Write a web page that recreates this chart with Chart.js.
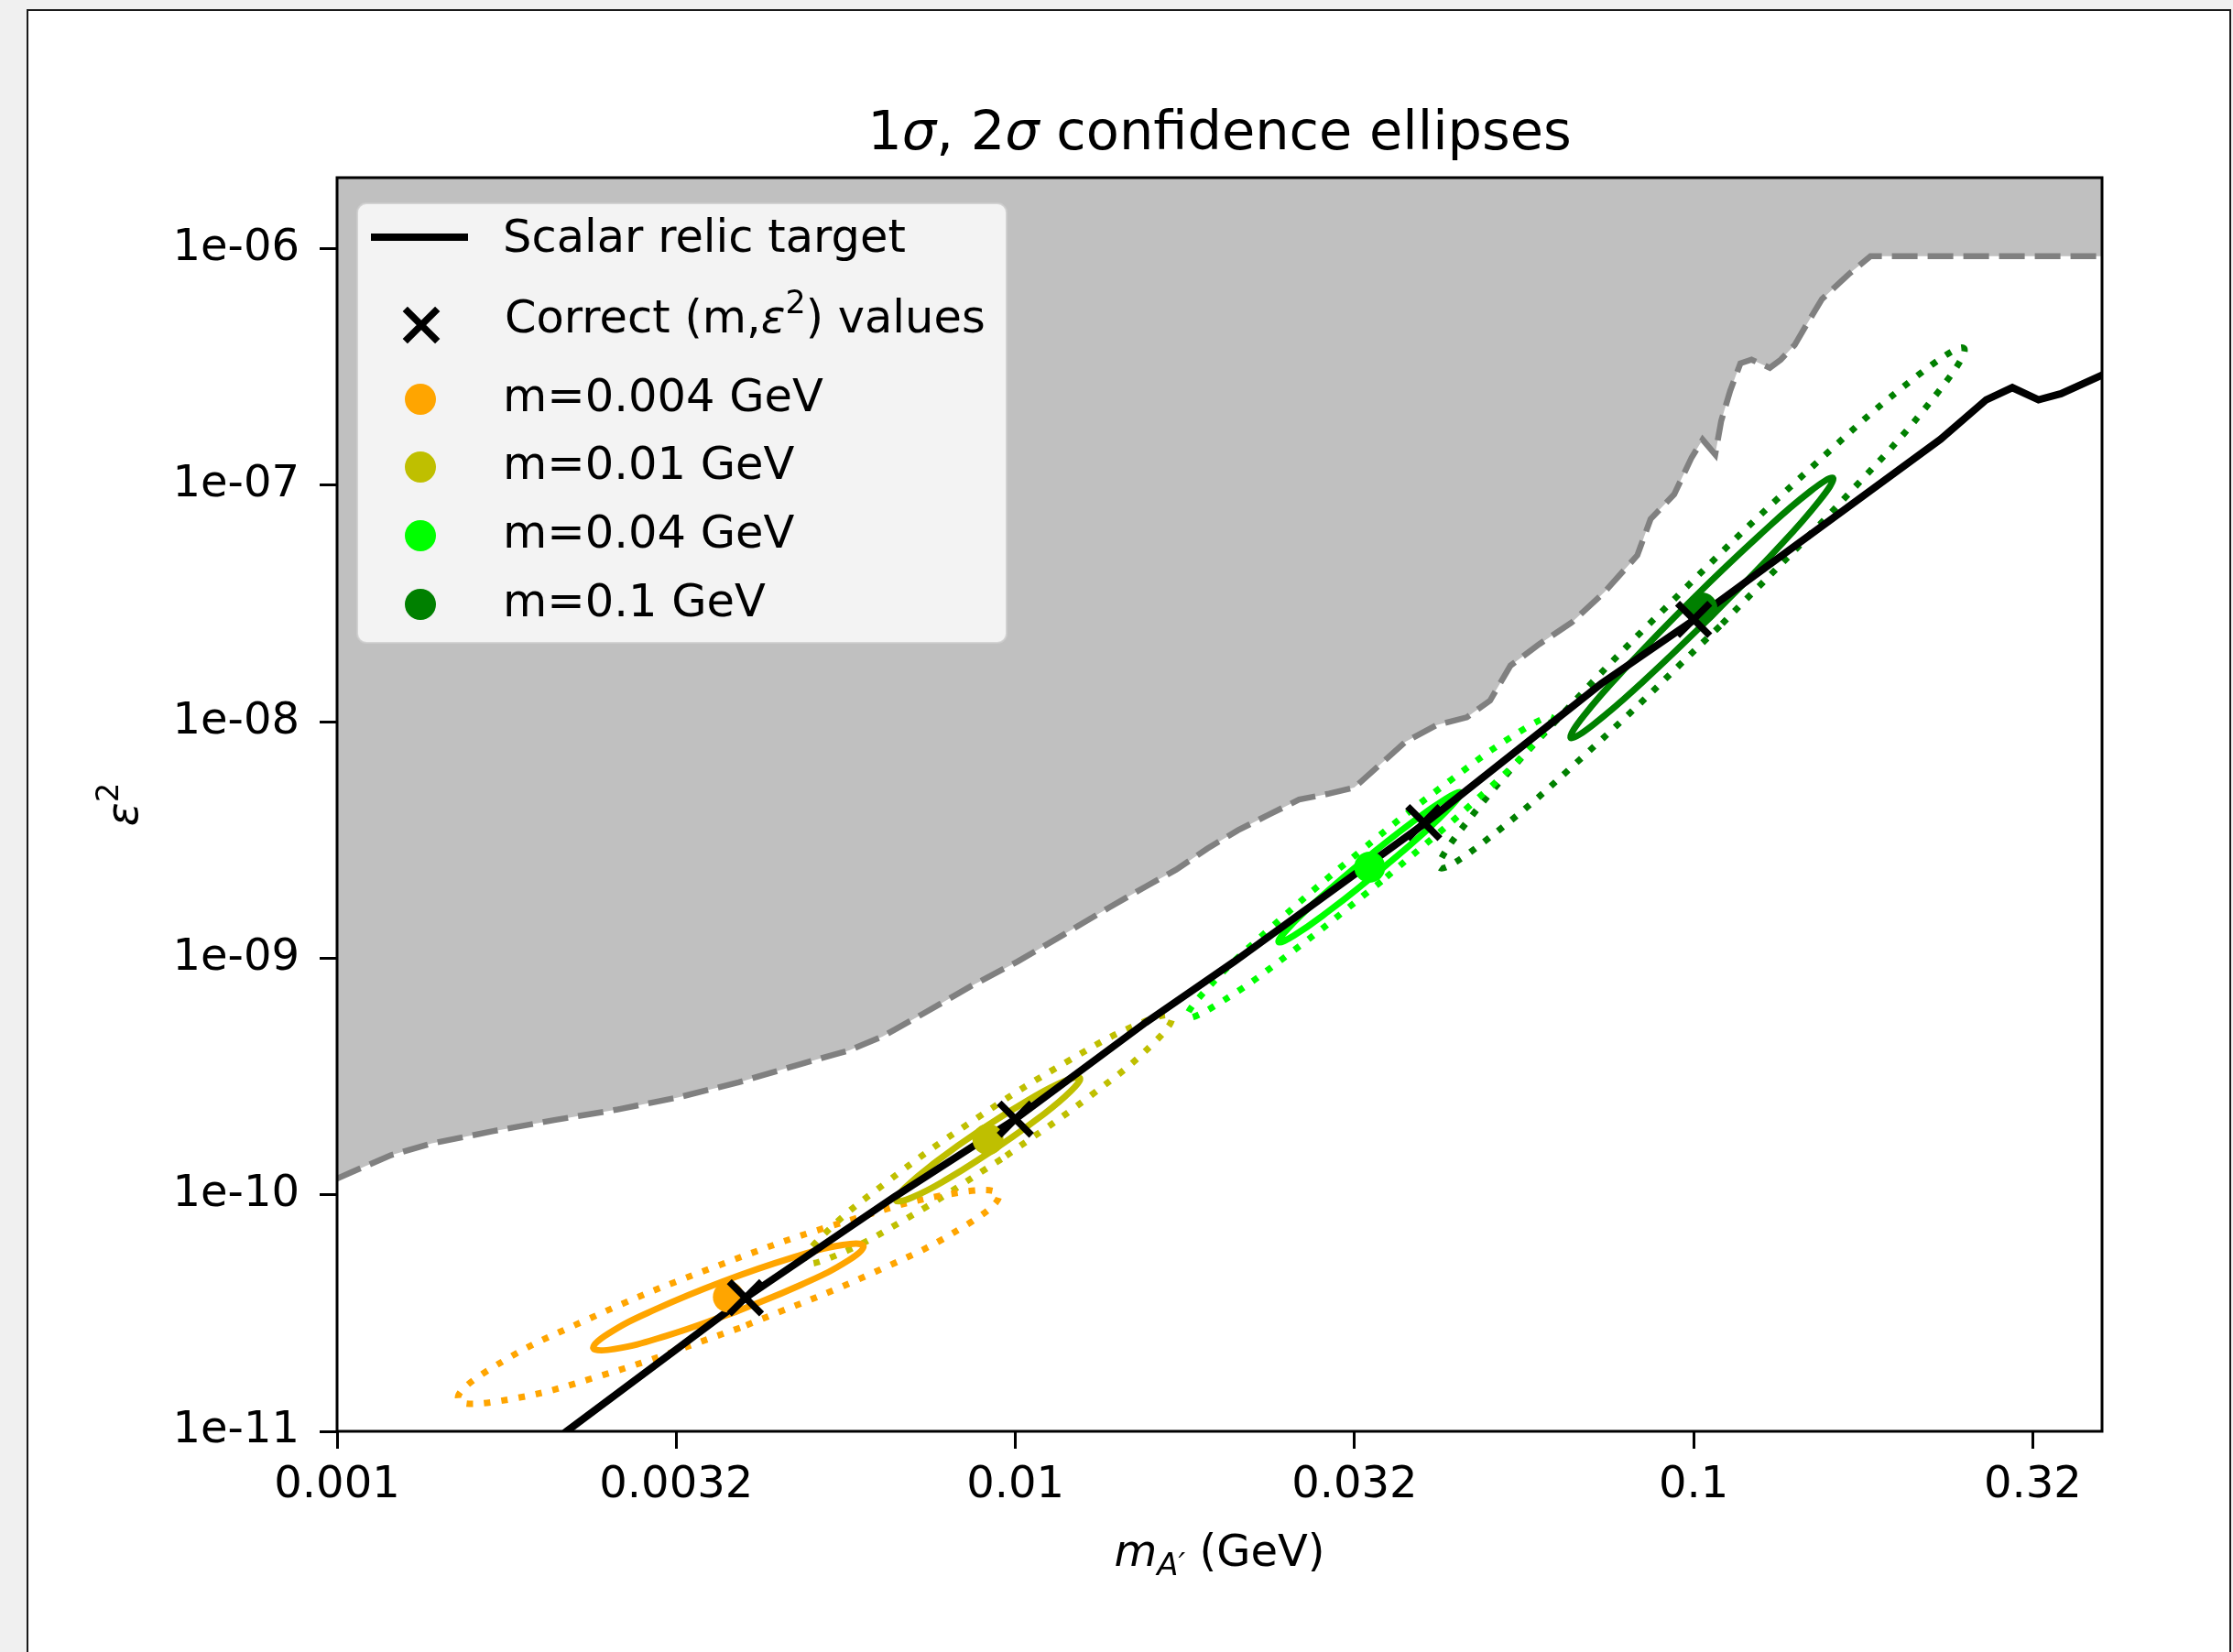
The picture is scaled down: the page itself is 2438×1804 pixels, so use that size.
<!DOCTYPE html>
<html>
<head>
<meta charset="utf-8">
<script src="https://cdn.jsdelivr.net/npm/chart.js@4.4.1/dist/chart.umd.min.js"></script>
<style>
  html, body { margin: 0; padding: 0; background: #f0f0f0; overflow: hidden; }
  #frame { position: absolute; left: 29px; top: 10px; width: 2403px; height: 1810px; background: #fff; border: 2px solid #1a1a1a; border-bottom: none; }
  #c { position: absolute; left: 0; top: 0; }
</style>
</head>
<body>
<div id="frame"></div>
<canvas id="c" width="2438" height="1804"></canvas>
<script>
// excluded region boundary (grey above it)
const boundaryMass = [0.001, 0.00106, 0.0012, 0.00138, 0.0017, 0.00209, 0.00258, 0.00318, 0.00391, 0.00482,
  0.00569, 0.00637, 0.00731, 0.00861, 0.01007, 0.01178, 0.01375, 0.01556, 0.01726, 0.01918,
  0.02129, 0.0236, 0.0262, 0.029, 0.0316, 0.0339, 0.0376, 0.0418, 0.0463, 0.0501,
  0.0537, 0.0592, 0.0661, 0.0739, 0.0826, 0.0864, 0.0936, 0.0993, 0.1031, 0.1076,
  0.1098, 0.1132, 0.1172, 0.1217, 0.1295, 0.1344, 0.1409, 0.1472, 0.1546, 0.1692,
  0.1823, 0.4];
const boundaryEps2 = [1.17e-10, 1.26e-10, 1.47e-10, 1.65e-10, 1.86e-10, 2.07e-10, 2.29e-10, 2.58e-10, 2.99e-10, 3.57e-10,
  4.08e-10, 4.67e-10, 5.83e-10, 7.64e-10, 9.68e-10, 1.26e-9, 1.64e-9, 2.01e-9, 2.37e-9, 2.91e-9,
  3.48e-9, 4.04e-9, 4.69e-9, 4.97e-9, 5.27e-9, 6.31e-9, 8.24e-9, 9.70e-9, 1.045e-8, 1.23e-8,
  1.73e-8, 2.13e-8, 2.63e-8, 3.54e-8, 5.06e-8, 7.2e-8, 9.16e-8, 1.31e-7, 1.56e-7, 1.35e-7,
  1.87e-7, 2.51e-7, 3.28e-7, 3.40e-7, 3.14e-7, 3.40e-7, 3.92e-7, 4.86e-7, 6.13e-7, 7.80e-7,
  9.31e-7, 9.31e-7];

// scalar relic target
const relicMass = [0.00205, 0.00218, 0.004, 0.00663, 0.01, 0.01556, 0.02104, 0.0403, 0.0731, 0.1003,
  0.2311, 0.27, 0.295, 0.3224, 0.348, 0.404];
const relicEps2 = [8.7e-12, 1.0e-11, 3.67e-11, 9.8e-11, 2.09e-10, 5.35e-10, 9.7e-10, 3.75e-9, 1.45e-8, 2.71e-8,
  1.565e-7, 2.30e-7, 2.59e-7, 2.30e-7, 2.44e-7, 2.96e-7];

// correct (m, eps^2) values
const trueMass = [0.004, 0.01, 0.04, 0.1];
const trueEps2 = [3.67e-11, 2.09e-10, 3.75e-9, 2.71e-8];

// fitted values (centres of the ellipses)
const fitMass = [0.003776, 0.009113, 0.0333, 0.1028];
const fitEps2 = [3.70e-11, 1.715e-10, 2.43e-9, 3.03e-8];

const massLabels = ['m=0.004 GeV', 'm=0.01 GeV', 'm=0.04 GeV', 'm=0.1 GeV'];
const massColors = ['#ffa500', '#bfbf00', '#00ff00', '#008000'];

// ellipse outlines [m, eps^2], 1 sigma and 2 sigma
const ellA1 = [[0.003851, 3.183e-11], [0.003054, 2.532e-11], [0.002564, 2.229e-11], [0.002387, 2.248e-11],
  [0.002513, 2.591e-11], [0.002951, 3.284e-11], [0.003702, 4.297e-11], [0.004668, 5.402e-11],
  [0.005563, 6.134e-11], [0.005971, 6.083e-11], [0.005674, 5.279e-11], [0.004832, 4.165e-11], [0.003851, 3.183e-11]];
const ellA2 = [[0.003928, 2.739e-11], [0.002471, 1.733e-11], [0.00174, 1.344e-11], [0.001509, 1.366e-11],
  [0.001672, 1.815e-11], [0.002306, 2.916e-11], [0.003629, 4.993e-11], [0.00577, 7.894e-11],
  [0.008191, 1.018e-10], [0.00945, 1.001e-10], [0.008521, 7.539e-11], [0.006182, 4.691e-11], [0.003928, 2.739e-11]];
const ellB1 = [[0.009322, 1.558e-10], [0.007955, 1.170e-10], [0.007037, 9.74e-11], [0.006674, 9.44e-11],
  [0.00688, 1.073e-10], [0.007649, 1.383e-10], [0.00891, 1.889e-10], [0.01045, 2.514e-10],
  [0.0118, 3.021e-10], [0.01245, 3.119e-10], [0.01207, 2.744e-10], [0.01086, 2.128e-10], [0.009322, 1.558e-10]];
const ellB2 = [[0.009535, 1.415e-10], [0.006939, 7.99e-11], [0.005434, 5.534e-11], [0.004887, 5.191e-11],
  [0.005194, 6.708e-11], [0.006418, 1.115e-10], [0.00871, 2.08e-10], [0.01197, 3.685e-10],
  [0.01529, 5.318e-10], [0.01699, 5.671e-10], [0.016, 4.387e-10], [0.01294, 2.639e-10], [0.009535, 1.415e-10]];
const ellC1 = [[0.03396, 2.266e-9], [0.02902, 1.589e-9], [0.02573, 1.247e-9], [0.02444, 1.171e-9],
  [0.02523, 1.336e-9], [0.02804, 1.789e-9], [0.03264, 2.6e-9], [0.0382, 3.709e-9],
  [0.04308, 4.723e-9], [0.04535, 5.03e-9], [0.04394, 4.409e-9], [0.03954, 3.292e-9], [0.03396, 2.266e-9]];
const ellC2 = [[0.03464, 2.115e-9], [0.02529, 1.04e-9], [0.01989, 6.41e-10], [0.01795, 5.65e-10],
  [0.01911, 7.36e-10], [0.02361, 1.319e-9], [0.032, 2.786e-9], [0.04383, 5.667e-9],
  [0.05575, 9.19e-9], [0.06177, 1.043e-8], [0.058, 8.009e-9], [0.04695, 4.466e-9], [0.03464, 2.115e-9]];
const ellD1 = [[0.106, 2.774e-8], [0.08449, 1.492e-8], [0.07101, 9.70e-9], [0.06587, 8.56e-9],
  [0.06884, 1.06e-8], [0.08013, 1.739e-8], [0.0997, 3.313e-8], [0.1251, 6.159e-8],
  [0.1488, 9.469e-8], [0.1605, 1.073e-7], [0.1535, 8.664e-8], [0.1319, 5.282e-8], [0.106, 2.774e-8]];
const ellD2 = [[0.1093, 2.538e-8], [0.06947, 7.339e-9], [0.04905, 3.106e-9], [0.04221, 2.418e-9],
  [0.04611, 3.71e-9], [0.06245, 9.98e-9], [0.09669, 3.619e-8], [0.1521, 1.252e-7],
  [0.2154, 2.958e-7], [0.2503, 3.798e-7], [0.2292, 2.476e-7], [0.1692, 9.204e-8], [0.1093, 2.538e-8]];

const xTicks = [0.001, 0.0031623, 0.01, 0.031623, 0.1, 0.31623];
const xTickLabels = ['0.001', '0.0032', '0.01', '0.032', '0.1', '0.32'];
const yTicks = [1e-11, 1e-10, 1e-9, 1e-8, 1e-7, 1e-6];
const yTickLabels = ['1e-11', '1e-10', '1e-09', '1e-08', '1e-07', '1e-06'];

const pts = (xs, ys) => xs.map((x, i) => ({ x: x, y: ys[i] }));
const pairs = arr => arr.map(p => ({ x: p[0], y: p[1] }));
const F = (size, italic) => (italic ? 'italic ' : '') + size + 'px "DejaVu Sans"';

const sigma1 = [ellA1, ellB1, ellC1, ellD1];
const sigma2 = [ellA2, ellB2, ellC2, ellD2];

const datasets = [];
datasets.push({
  data: pts(boundaryMass, boundaryEps2), showLine: true, fill: 'end',
  backgroundColor: '#c0c0c0', borderColor: '#808080', borderWidth: 6.5, borderDash: [28, 11],
  pointRadius: 0, clip: 0, order: 10
});
for (let i = 0; i < 4; i++) {
  datasets.push({
    data: pairs(sigma2[i]), showLine: true, borderColor: massColors[i], borderWidth: 7,
    borderDash: [7, 12], pointRadius: 0, tension: 0.45, fill: false, order: 6
  });
  datasets.push({
    data: pairs(sigma1[i]), showLine: true, borderColor: massColors[i], borderWidth: 7,
    pointRadius: 0, tension: 0.45, fill: false, order: 5
  });
}
datasets.push({
  data: pts(relicMass, relicEps2), showLine: true, borderColor: '#000', borderWidth: 8,
  pointRadius: 0, clip: 0, order: 3
});
datasets.push({
  data: pts(fitMass, fitEps2), pointRadius: 17, backgroundColor: massColors, borderWidth: 0, order: 2
});
datasets.push({
  data: pts(trueMass, trueEps2), pointStyle: 'crossRot', pointRadius: 25,
  borderColor: '#000', borderWidth: 7.5, order: 1
});

function drawRuns(ctx, runs, x, y, align) {
  let total = 0;
  runs.forEach(r => { ctx.font = r.font; r.w = ctx.measureText(r.text).width; total += r.w; });
  let cx = align === 'center' ? x - total / 2 : x;
  runs.forEach(r => {
    ctx.font = r.font;
    ctx.fillText(r.text, cx, y + (r.dy || 0));
    cx += r.w;
  });
}

const decorations = {
  id: 'decorations',
  afterDatasetsDraw(chart) {
    const ctx = chart.ctx;
    const a = chart.chartArea;
    ctx.save();
    ctx.fillStyle = '#000';
    ctx.textBaseline = 'alphabetic';
    ctx.textAlign = 'left';

    // frame
    ctx.strokeStyle = '#000';
    ctx.lineWidth = 3;
    ctx.strokeRect(a.left, a.top, a.right - a.left, a.bottom - a.top);

    const midX = (a.left + a.right) / 2;
    // title
    drawRuns(ctx, [
      { text: '1', font: F(59) }, { text: 'σ', font: F(59, true) }, { text: ', ', font: F(59) },
      { text: '2', font: F(59) }, { text: 'σ', font: F(59, true) }, { text: ' confidence ellipses', font: F(59) }
    ], midX, a.top - 31, 'center');

    // x axis title
    drawRuns(ctx, [
      { text: 'm', font: F(48, true) }, { text: 'A′', font: F(34, true), dy: 10 }, { text: ' (GeV)', font: F(48) }
    ], midX, a.bottom + 147, 'center');

    // y axis title
    ctx.save();
    ctx.translate(150, (a.top + a.bottom) / 2);
    ctx.rotate(-Math.PI / 2);
    drawRuns(ctx, [{ text: 'ε', font: F(48, true) }, { text: '2', font: F(34), dy: -21 }], 0, 0, 'center');
    ctx.restore();

    // legend
    const lx = a.left + 22, ly = a.top + 28, lw = 709, lh = 480;
    ctx.beginPath();
    ctx.roundRect(lx, ly, lw, lh, 10);
    ctx.fillStyle = 'rgba(255,255,255,0.8)';
    ctx.fill();
    ctx.strokeStyle = 'rgba(204,204,204,0.8)';
    ctx.lineWidth = 2;
    ctx.stroke();

    const lf = 49.5;
    ctx.fillStyle = '#000';
    ctx.strokeStyle = '#000';
    ctx.lineWidth = 8;
    ctx.beginPath();
    ctx.moveTo(lx + 15, ly + 37);
    ctx.lineTo(lx + 121, ly + 37);
    ctx.stroke();
    drawRuns(ctx, [{ text: 'Scalar relic target', font: F(lf) }], lx + 159, ly + 53);

    const cx = lx + 70, cy = ly + 133, d = 17.7;
    ctx.lineWidth = 7.5;
    ctx.beginPath();
    ctx.moveTo(cx - d, cy - d); ctx.lineTo(cx + d, cy + d);
    ctx.moveTo(cx - d, cy + d); ctx.lineTo(cx + d, cy - d);
    ctx.stroke();
    drawRuns(ctx, [
      { text: 'Correct (m,', font: F(lf) }, { text: 'ε', font: F(lf, true) },
      { text: '2', font: F(35), dy: -21 }, { text: ') values', font: F(lf) }
    ], lx + 161, ly + 141);

    const rowDot = [214, 288, 363, 438];
    for (let i = 0; i < 4; i++) {
      ctx.fillStyle = massColors[i];
      ctx.beginPath();
      ctx.arc(lx + 69, ly + rowDot[i], 17, 0, Math.PI * 2);
      ctx.fill();
      ctx.fillStyle = '#000';
      drawRuns(ctx, [{ text: massLabels[i], font: F(lf) }], lx + 159, ly + rowDot[i] + 13);
    }
    ctx.restore();
  }
};

const tickFont = { family: 'DejaVu Sans', size: 48, lineHeight: 1.2 };

new Chart(document.getElementById('c'), {
  type: 'scatter',
  data: { datasets: datasets },
  options: {
    responsive: false,
    animation: false,
    events: [],
    layout: { padding: { left: 0, right: 143, top: 194, bottom: 0 } },
    plugins: { legend: { display: false }, tooltip: { enabled: false }, title: { display: false } },
    scales: {
      x: {
        type: 'logarithmic', min: 0.001, max: 0.4,
        afterFit: s => { s.height = 241; },
        afterBuildTicks: s => { s.ticks = xTicks.map(v => ({ value: v })); },
        grid: { drawOnChartArea: false, drawTicks: true, tickLength: 19, tickWidth: 3, tickColor: '#000', color: '#000' },
        border: { display: false },
        ticks: { font: tickFont, color: '#000', padding: 12, autoSkip: false, maxRotation: 0,
          callback: (v, i) => xTickLabels[i] }
      },
      y: {
        type: 'logarithmic', min: 1e-11, max: 2e-6,
        afterFit: s => { s.width = 368; },
        afterBuildTicks: s => { s.ticks = yTicks.map(v => ({ value: v })); },
        grid: { drawOnChartArea: false, drawTicks: true, tickLength: 19, tickWidth: 3, tickColor: '#000', color: '#000' },
        border: { display: false },
        ticks: { font: tickFont, color: '#000', padding: 22, autoSkip: false,
          callback: (v, i) => yTickLabels[i] }
      }
    }
  },
  plugins: [decorations]
});
</script>
</body>
</html>
